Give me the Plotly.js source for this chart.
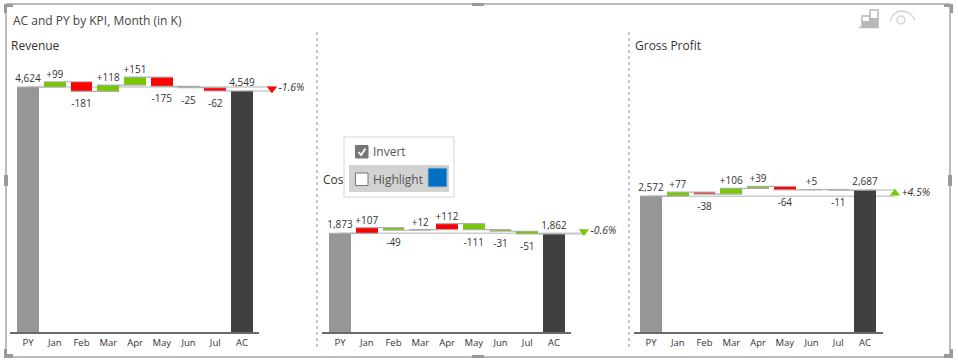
<!DOCTYPE html>
<html><head><meta charset="utf-8">
<script src="https://cdn.plot.ly/plotly-3.0.1.min.js"></script>
<style>html,body{margin:0;padding:0;background:#fff}#c{width:958px;height:363px}</style>
</head><body><div id="c"></div>
<script>
const categories = ['PY','Jan','Feb','Mar','Apr','May','Jun','Jul','AC'];
const revenueDeltas = [99,-181,118,151,-175,-25,-62];
const costsDeltas = [107,-49,12,112,-111,-31,-51];
const grossDeltas = [77,-38,106,39,-64,5,-11];
const pyValues = [4624,1873,2572];
const acValues = [4549,1862,2687];
const pctLabels = ['-1.6%','-0.6%','+4.5%'];
const panelTitles = ['Revenue','Cost','Gross Profit'];
const deltaSets = [revenueDeltas,costsDeltas,grossDeltas];
const inverted = [false,true,false];
const markerLevels = [4590,1910,2625];
const markerSymbols = ['triangle-down','triangle-down','triangle-up'];
const markerColors = ['#ff0000','#78c800','#78c800'];

const W=958,H=363,baseY=333,scale=0.0532;
const GREEN='#78c800',RED='#ff0000',FONT='"Open Sans","Noto Sans",sans-serif',TXT='#333333';
const fx=p=>p/W, fy=p=>1-p/H;
// [axis line left, axis line right, first bar centre, plot area right]
const axisAreas=[[10,259,28,316],[322,571,340,628],[634,883,651,948]];
const step=26.75, barW=0.82;
const traces=[], shapes=[], annotations=[];
const layout={width:W,height:H,margin:{l:0,r:0,t:0,b:0,pad:0},showlegend:false,
  paper_bgcolor:'#fff',plot_bgcolor:'rgba(0,0,0,0)',hovermode:false,bargap:0,barmode:'overlay',
  yaxis:{domain:[(H-baseY)/H,1],range:[0,baseY/scale],visible:false,fixedrange:true}};

deltaSets.forEach((deltas,p)=>{
  const suffix=p?String(p+1):'';
  const xa='x'+suffix;
  const [l,r,c0,end]=axisAreas[p];
  layout['xaxis'+suffix]={domain:[l/W,end/W],range:[(l-c0)/step,(end-c0)/step],anchor:'y',
    tickmode:'array',tickvals:categories.map((_,i)=>i),ticktext:categories,ticks:'',
    showgrid:false,zeroline:false,showline:false,ticklabelstandoff:2,
    tickfont:{family:FONT,size:9.5,color:TXT},fixedrange:true};
  const levels=[pyValues[p]];
  deltas.forEach(d=>levels.push(levels[levels.length-1]+d));
  const dx=deltas.map((_,i)=>i+1);
  traces.push({type:'bar',xaxis:xa,yaxis:'y',x:[0,8],y:[pyValues[p],acValues[p]],width:barW,
    marker:{color:['#969696','#404040'],line:{width:0}}});
  traces.push({type:'bar',xaxis:xa,yaxis:'y',x:dx,
    y:deltas.map(d=>Math.abs(d)),base:deltas.map((d,i)=>Math.min(levels[i],levels[i+1])),width:barW,
    marker:{color:deltas.map(d=>((d>0)!==inverted[p])?GREEN:RED),line:{width:0}}});
  // reference lines run behind the bars
  const tipX=9.12;
  [[0,pyValues[p]],[8,acValues[p]]].forEach(a=>shapes.push({type:'line',xref:xa,yref:'y',layer:'below',
    x0:a[0],x1:tipX,y0:a[1],y1:a[1],line:{color:'#cccccc',width:1.5}}));
  // connectors span the full width of both neighbouring bars
  const cx=[],cy=[];
  levels.forEach((v,i)=>{cx.push(i-barW/2,i+1+barW/2,null);cy.push(v,v,null);});
  traces.push({type:'scatter',mode:'lines',xaxis:xa,yaxis:'y',x:cx,y:cy,
    line:{color:'#aeaeae',width:1.2},cliponaxis:false});
  traces.push({type:'scatter',mode:'markers+text',xaxis:xa,yaxis:'y',x:[0,8],y:[pyValues[p],acValues[p]],
    text:[pyValues[p],acValues[p]].map(v=>v.toLocaleString('en-US')),textposition:'top center',
    marker:{opacity:0,size:3},
    textfont:{family:FONT,size:10,color:TXT},cliponaxis:false});
  traces.push({type:'scatter',mode:'markers+text',xaxis:xa,yaxis:'y',x:dx,
    y:deltas.map((d,i)=>d>0?Math.max(levels[i],levels[i+1]):Math.min(levels[i],levels[i+1])),
    text:deltas.map(d=>(d>0?'+':'')+d),
    marker:{opacity:0,size:deltas.map(d=>d>0?1:12)},
    textposition:deltas.map(d=>d>0?'top center':'bottom center'),
    textfont:{family:FONT,size:10,color:TXT},cliponaxis:false});
  traces.push({type:'scatter',mode:'markers+text',xaxis:xa,yaxis:'y',x:[tipX],y:[markerLevels[p]],
    marker:{symbol:markerSymbols[p],size:9,color:markerColors[p]},
    text:[pctLabels[p]],textposition:'middle right',
    textfont:{family:FONT,size:10.5,color:TXT,style:'italic'},cliponaxis:false});
});
// the Cost title sits under the popup, so it is a trace and not an annotation
traces.push({type:'scatter',mode:'text',xaxis:'x2',yaxis:'y',x:[(323-340)/step],y:[(baseY-181)/scale],
  text:[panelTitles[1]],textposition:'middle right',textfont:{family:FONT,size:12,color:TXT},cliponaxis:false});

function rect(x0,y0,x1,y1,fill,line,lw){shapes.push({type:'rect',xref:'paper',yref:'paper',
  x0:fx(x0),x1:fx(x1),y0:fy(y0),y1:fy(y1),fillcolor:fill||'rgba(0,0,0,0)',
  line:{color:line||'rgba(0,0,0,0)',width:lw||0},layer:'above'});}
function seg(x0,y0,x1,y1,col,lw,dash){shapes.push({type:'line',xref:'paper',yref:'paper',
  x0:fx(x0),x1:fx(x1),y0:fy(y0),y1:fy(y1),line:{color:col,width:lw,dash:dash||'solid'},layer:'above'});}
function poly(pts,fill,line,lw){const d=pts.map((q,i)=>(i?'L':'M')+fx(q[0])+','+fy(q[1])).join(' ');
  shapes.push({type:'path',xref:'paper',yref:'paper',path:d,fillcolor:fill||'rgba(0,0,0,0)',
  line:{color:line||'rgba(0,0,0,0)',width:lw||0},layer:'above'});}
function label(x,y,t,size,col){annotations.push({xref:'paper',yref:'paper',x:fx(x),y:fy(y),text:t,showarrow:false,
  xanchor:'left',yanchor:'middle',font:{family:FONT,size:size,color:col||TXT},borderpad:0});}

// x axis baselines
axisAreas.forEach(a=>seg(a[0],333,a[1],333,'#6a6a6a',2));
// frame
seg(6,4,950,4,'#a6a6a6',1.5); seg(6,357,950,357,'#a6a6a6',1.5);
seg(6,4,6,357,'#a6a6a6',1.5); seg(950,4,950,357,'#a6a6a6',1.5);
[[4,4,13,7],[4,4,7,13],[944,4,953,7],[950,4,953,13],[4,354,13,358],[4,349,7,358],[944,354,953,358],[950,349,953,358],
 [472,3,484,6],[472,355,484,358],[4,175,8,186],[948,175,952,186]].forEach(a=>rect(a[0],a[1],a[2],a[3],'#9a9a9a'));
seg(317,32,317,348,'#c8c8c8',2,'dot'); seg(629,32,629,348,'#c8c8c8',2,'dot');
label(12,20,'AC and PY by KPI, Month (in K)',12,'#444');
label(9.5,45,panelTitles[0],12);
label(633.5,45,panelTitles[2],12);
// popup
rect(344,137,454,197,'#ffffff','#e4e4e4',1.5);
rect(349,165,449,192,'#d2d2d2');
rect(355.5,145.5,368,158,'#777777','#777777',1);
poly([[358.5,152],[361,155],[365.5,148.5]],null,'#ffffff',1.8);
rect(355.5,173,368,185.5,'#ffffff','#777777',1);
rect(428,168,447,187,'#0070c4','#a8b8c4',1);
label(372,151.5,'Invert',12,'#555');
label(372,179.5,'Highlight',12,'#555');
// top-right icons
rect(862,16,870,27,'#ffffff','#b8b8b8',1.5);
rect(870,10,878,27,'#ffffff','#b8b8b8',1.5);
rect(862,21,870,27,'#b8b8b8'); rect(870,18,878,27,'#b8b8b8');
seg(859,27.5,879,27.5,'#b8b8b8',1.5);
poly([[890,21],[893,15],[898,11.5],[903,11],[909,13],[913,17],[915,20]],null,'#d4d4d4',1.5);
shapes.push({type:'circle',xref:'paper',yref:'paper',x0:fx(897),x1:fx(905),y0:fy(24),y1:fy(16),line:{color:'#d4d4d4',width:1.5},layer:'above'});

layout.shapes=shapes; layout.annotations=annotations;
Plotly.newPlot('c',traces,layout,{displayModeBar:false,staticPlot:true});
</script></body></html>
